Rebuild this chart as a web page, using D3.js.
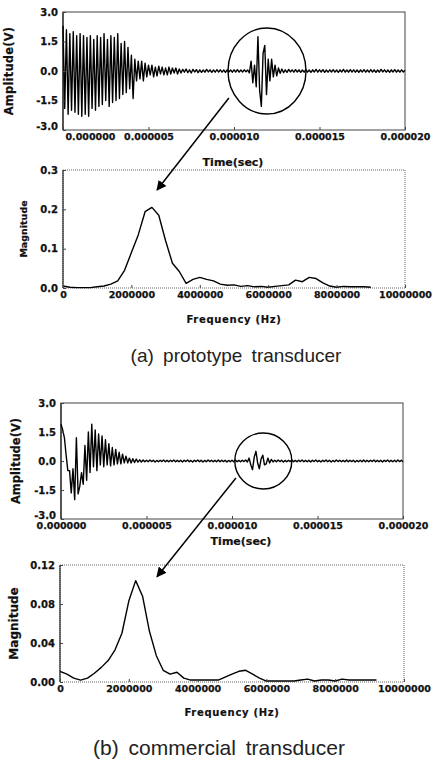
<!DOCTYPE html>
<html>
<head>
<meta charset="utf-8">
<script src="https://cdn.jsdelivr.net/npm/d3@7/dist/d3.min.js"></script>
<style>
  body { margin: 0; background: #fff; }
  svg { display: block; }
  .tick text { font-family: "DejaVu Sans", sans-serif; font-weight: bold; fill: #111; stroke: #111; stroke-width: 0.25px; }
  .title { font-family: "DejaVu Sans", sans-serif; font-weight: bold; fill: #111; stroke: #111; stroke-width: 0.2px; }
  .caption { font-family: "Liberation Sans", Arial, sans-serif; fill: #222; }
</style>
</head>
<body>
<svg width="433" height="765"></svg>
<script>
// sample spacing of the time traces (0.1 us)
var timeStep = 1e-7;

// (a) prototype transducer, amplitude (V) every 0.1 us, 0 .. 20 us
var timeA = [
  2.3, -1.9, 2.1, -2.2, 1.9, -2.0, 2.0, -2.1, 1.8, -2.2,
  1.9, -2.3, 1.8, -2.2, 1.7, -2.3, 1.8, -1.9, 1.6, -2.0,
  1.8, -1.8, 1.7, -1.7, 1.9, -1.5, 1.6, -1.8, 1.8, -1.6,
  1.7, -1.5, 1.9, -1.4, 1.4, -1.2, 1.5, -1.1, 1.2, -0.9,
  0.8, -1.4, 0.6, -0.5, 0.5, -0.4, 0.5, -0.5, 0.4, -0.3,
  0.3, -0.2, 0.3, -0.3, 0.2, -0.25, 0.25, -0.15, 0.2, -0.2,
  0.15, -0.2, 0.2, -0.15, 0.15, -0.1, 0.15, -0.15, 0.1, -0.1,
  0.08, -0.06, 0.1, -0.08, 0.06, -0.1, 0.08, -0.05, 0.07, -0.08,
  0.06, -0.07, 0.05, -0.06, 0.08, -0.05, 0.06, -0.07, 0.05, -0.06,
  0.07, -0.05, 0.06, -0.06, 0.05, -0.07, 0.06, -0.05, 0.05, -0.06,
  0.06, -0.05, 0.07, -0.06, 0.05, -0.05, 0.06, -0.04, 0.05, -0.1,
  0.5, -0.6, 0.3, -0.8, 1.75, -1.0, -1.8, 0.9, 1.3, -1.2,
  0.6, -0.5, 0.6, -0.3, 0.3, -0.25, 0.15, -0.12, 0.1, -0.08,
  0.06, -0.07, 0.08, -0.05, 0.06, -0.06, 0.07, -0.05, 0.06, -0.07,
  0.05, -0.06, 0.07, -0.06, 0.05, -0.07, 0.06, -0.05, 0.08, -0.06,
  0.06, -0.05, 0.07, -0.07, 0.05, -0.06, 0.06, -0.05, 0.07, -0.06,
  0.05, -0.07, 0.06, -0.05, 0.08, -0.06, 0.05, -0.06, 0.07, -0.05,
  0.06, -0.06, 0.05, -0.07, 0.06, -0.05, 0.07, -0.06, 0.05, -0.06,
  0.07, -0.05, 0.06, -0.07, 0.05, -0.06, 0.08, -0.05, 0.06, -0.06,
  0.05, -0.07, 0.06, -0.05, 0.07, -0.06, 0.05, -0.06, 0.06, -0.05,
  0.04
];

// (b) commercial transducer, amplitude (V) every 0.1 us, 0 .. 20 us
var timeB = [
  1.9, 1.6, 1.2, 0.3, -0.5, -0.5, -1.65, -0.4, -2.0, 1.2,
  -1.7, -1.3, -0.6, -1.2, 0.8, -1.0, 1.5, -0.6, 1.9, -0.3,
  1.6, -0.5, 1.4, -0.2, 1.3, -0.3, 1.1, -0.2, 0.9, -0.25,
  0.7, -0.2, 0.6, -0.15, 0.45, -0.15, 0.35, -0.1, 0.25, -0.1,
  0.15, -0.1, 0.12, -0.08, 0.1, -0.06, 0.06, -0.05, 0.05, -0.04,
  0.04, -0.04, 0.05, -0.03, 0.04, -0.05, 0.03, -0.04, 0.04, -0.03,
  0.05, -0.04, 0.03, -0.04, 0.04, -0.03, 0.05, -0.04, 0.03, -0.04,
  0.04, -0.05, 0.04, -0.03, 0.05, -0.04, 0.03, -0.05, 0.04, -0.03,
  0.05, -0.04, 0.04, -0.05, 0.03, -0.04, 0.05, -0.03, 0.04, -0.04,
  0.03, -0.04, 0.05, -0.04, 0.04, -0.03, 0.04, -0.05, 0.03, -0.04,
  0.04, -0.04, 0.05, -0.04, 0.03, -0.04, 0.04, -0.03,
  0.05, -0.05, 0.15, -0.2, -0.45, 0.2, 0.5, -0.1, -0.4, 0.1,
  0.3, -0.2, -0.15, 0.15, -0.1, 0.08, -0.05,
  0.04, -0.04, 0.05, -0.03, 0.04, -0.05, 0.03, -0.04, 0.04, -0.03,
  0.05, -0.04, 0.03, -0.04, 0.04, -0.03, 0.05, -0.04, 0.03, -0.04,
  0.04, -0.05, 0.04, -0.03, 0.05, -0.04, 0.03, -0.05, 0.04, -0.03,
  0.05, -0.04, 0.04, -0.05, 0.03, -0.04, 0.05, -0.03, 0.04, -0.04,
  0.03, -0.04, 0.05, -0.04, 0.04, -0.03, 0.04, -0.05, 0.03, -0.04,
  0.04, -0.04, 0.05, -0.04, 0.03, -0.04, 0.04, -0.03, 0.05, -0.04,
  0.03, -0.04, 0.04, -0.05, 0.04, -0.03, 0.05, -0.04, 0.03, -0.04,
  0.04, -0.04, 0.05, -0.03, 0.04, -0.04
];

// FFT frequencies (Hz) and magnitudes
var freqA = [0, 2e5, 4e5, 6e5, 8e5, 1e6, 1.2e6, 1.4e6, 1.6e6, 1.8e6,
  2e6, 2.2e6, 2.4e6, 2.6e6, 2.8e6, 3e6, 3.2e6, 3.4e6, 3.6e6, 3.8e6,
  4e6, 4.2e6, 4.4e6, 4.6e6, 4.8e6, 5e6, 5.2e6, 5.4e6, 5.6e6, 5.8e6,
  6e6, 6.2e6, 6.4e6, 6.6e6, 6.8e6, 7e6, 7.2e6, 7.4e6, 7.6e6, 7.8e6,
  8e6, 8.2e6, 8.4e6, 8.6e6, 8.8e6, 9e6];
var magA = [0.005, 0.002, 0.001, 0.001, 0.001, 0.003, 0.005, 0.010, 0.018, 0.045,
  0.090, 0.135, 0.194, 0.205, 0.185, 0.120, 0.063, 0.042, 0.012, 0.022,
  0.027, 0.022, 0.018, 0.010, 0.007, 0.008, 0.004, 0.006, 0.003, 0.004,
  0.002, 0.004, 0.006, 0.008, 0.020, 0.016, 0.027, 0.024, 0.013, 0.005,
  0.002, 0.004, 0.003, 0.003, 0.003, 0.002];

var freqB = [0, 2e5, 4e5, 6e5, 8e5, 1e6, 1.2e6, 1.4e6, 1.6e6, 1.8e6,
  2e6, 2.2e6, 2.4e6, 2.6e6, 2.8e6, 3e6, 3.2e6, 3.4e6, 3.6e6, 3.8e6,
  4e6, 4.2e6, 4.4e6, 4.6e6, 4.8e6, 5e6, 5.2e6, 5.4e6, 5.6e6, 5.8e6,
  6e6, 6.2e6, 6.4e6, 6.6e6, 6.8e6, 7e6, 7.2e6, 7.4e6, 7.6e6, 7.8e6,
  8e6, 8.2e6, 8.4e6, 8.6e6, 8.8e6, 9e6, 9.2e6];
var magB = [0.011, 0.008, 0.004, 0.002, 0.004, 0.009, 0.015, 0.022, 0.033, 0.050,
  0.083, 0.104, 0.088, 0.052, 0.027, 0.012, 0.008, 0.010, 0.004, 0.002,
  0.002, 0.002, 0.002, 0.002, 0.005, 0.008, 0.011, 0.012, 0.008, 0.004,
  0.001, 0.001, 0.001, 0.001, 0.001, 0.002, 0.003, 0.001, 0.002, 0.002,
  0.001, 0.003, 0.002, 0.002, 0.002, 0.002, 0.002];

// ticks
var timeTicks = [0, 5e-6, 10e-6, 15e-6, 20e-6];
var ampTicks = [-3, -1.5, 0, 1.5, 3];
var freqTicks = [0, 2e6, 4e6, 6e6, 8e6, 10e6];
var magTicksA = [0, 0.1, 0.2, 0.3];
var magTicksB = [0, 0.04, 0.08, 0.12];

// callouts: circled echo [t, V] and arrow [start t, V] -> [tip Hz, magnitude]
var echoA = [11.93e-6, 0], arrowA = [[9.7e-6, -1.37], [2.75e6, 0.249]];
var echoB = [11.83e-6, 0], arrowB = [[10.23e-6, -0.88], [2.82e6, 0.108]];

var captions = ["(a) prototype transducer", "(b) commercial transducer"];

var svg = d3.select("svg");
svg.append("rect").attr("width", 433).attr("height", 765).attr("fill", "#fff");

svg.append("defs").append("marker")
    .attr("id", "head")
    .attr("viewBox", "0 0 10 10")
    .attr("refX", 9).attr("refY", 5)
    .attr("markerWidth", 10).attr("markerHeight", 10)
    .attr("markerUnits", "userSpaceOnUse")
    .attr("orient", "auto")
  .append("path")
    .attr("d", "M0,0L10,5L0,10z")
    .attr("fill", "#000");

function panel(box) {
  var g = svg.append("g").attr("transform", "translate(" + box.left + "," + box.top + ")");
  g.w = box.right - box.left;
  g.h = box.bottom - box.top;
  g.box = box;
  return g;
}

function frame(g, dotted) {
  g.append("rect")
      .attr("width", g.w).attr("height", g.h)
      .attr("fill", "none")
      .attr("stroke", dotted ? "#666" : "#444")
      .attr("stroke-dasharray", dotted ? "1,1" : null)
      .attr("stroke-width", 1);
  g.append("line").attr("x1", 0).attr("x2", 0).attr("y1", 0).attr("y2", g.h)
      .attr("stroke", "#222").attr("stroke-width", 1.2);
}

function drawTime(box, values, opt) {
  var g = panel(box);
  var x = d3.scaleLinear().domain([0, 20e-6]).range([0, g.w]);
  var y = d3.scaleLinear().domain([-3, 3]).range([g.h, 0]);
  frame(g, false);

  var line = d3.line()
      .x(function(d, i) { return x(i * timeStep); })
      .y(function(d) { return y(d); });

  g.append("path")
      .datum(values)
      .attr("fill", "none")
      .attr("stroke", "#000")
      .attr("stroke-width", 1.4)
      .attr("stroke-linejoin", "round")
      .attr("d", line);

  var ya = g.append("g")
      .call(d3.axisLeft(y).tickValues(ampTicks).tickSize(-3).tickPadding(5)
        .tickFormat(function(d) { return d.toFixed(1); }));
  ya.select(".domain").remove();
  ya.selectAll("line").attr("stroke", "#444");
  ya.selectAll("text").style("font-size", "10px");
  ya.selectAll(".tick").filter(function(d) { return d === -3; }).select("text").attr("dy", "-0.05em");

  var xa = g.append("g")
      .attr("transform", "translate(0," + g.h + ")")
      .call(d3.axisBottom(x).tickValues(timeTicks).tickSize(-3).tickPadding(3)
        .tickFormat(d3.format(".6f")));
  xa.select(".domain").remove();
  xa.selectAll("line").attr("stroke", "#444");
  xa.selectAll("text").style("font-size", "9.5px");
  if (opt.firstStart) {
    xa.selectAll(".tick").filter(function(d) { return d === 0; }).select("text")
        .attr("text-anchor", "start").attr("x", 2);
  }

  g.append("text").attr("class", "title")
      .attr("transform", "translate(" + opt.yTitleX + "," + (g.h / 2) + ") rotate(-90)")
      .attr("text-anchor", "middle")
      .style("font-size", "11.5px")
      .style("letter-spacing", opt.yTitleSpace)
      .text(opt.yTitle);

  g.append("text").attr("class", "title")
      .attr("x", opt.xTitleX).attr("y", g.h + opt.xTitleY)
      .attr("text-anchor", "middle")
      .style("font-size", "11px")
      .text("Time(sec)");

  // circled echo
  g.append("ellipse")
      .attr("cx", x(opt.echo[0])).attr("cy", y(opt.echo[1]))
      .attr("rx", opt.rx).attr("ry", opt.ry)
      .attr("fill", "none").attr("stroke", "#000").attr("stroke-width", 1.4);

  g.x = x; g.y = y;
  return g;
}

function drawFft(box, freqs, mags, opt) {
  var g = panel(box);
  var x = d3.scaleLinear().domain([0, 10e6]).range([0, g.w]);
  var y = d3.scaleLinear().domain([0, opt.ymax]).range([g.h, 0]);
  frame(g, true);

  var line = d3.line()
      .x(function(d, i) { return x(freqs[i]); })
      .y(function(d) { return y(d); });

  g.append("path")
      .datum(mags)
      .attr("fill", "none")
      .attr("stroke", "#000")
      .attr("stroke-width", 1.4)
      .attr("stroke-linejoin", "round")
      .attr("d", line);

  var ya = g.append("g")
      .call(d3.axisLeft(y).tickValues(opt.ticks).tickSize(-3).tickPadding(5)
        .tickFormat(function(d) { return d.toFixed(opt.digits); }));
  ya.select(".domain").remove();
  ya.selectAll("line").attr("stroke", "#444");
  ya.selectAll("text").style("font-size", "10px");

  var xa = g.append("g")
      .attr("transform", "translate(0," + g.h + ")")
      .call(d3.axisBottom(x).tickValues(freqTicks).tickSize(-3).tickPadding(3)
        .tickFormat(d3.format("d")));
  xa.select(".domain").remove();
  xa.selectAll("line").attr("stroke", "#444");
  xa.selectAll("text").style("font-size", "9.5px");

  g.append("text").attr("class", "title")
      .attr("transform", "translate(" + opt.yTitleX + "," + (g.h / 2) + ") rotate(-90)")
      .attr("text-anchor", "middle")
      .style("font-size", opt.yTitleSize)
      .text("Magnitude");

  g.append("text").attr("class", "title")
      .attr("x", g.w / 2 + opt.xTitleDx).attr("y", g.h + opt.xTitleY)
      .attr("text-anchor", "middle")
      .style("font-size", "10px")
      .style("letter-spacing", "0.7px")
      .text("Frequency (Hz)");

  g.x = x; g.y = y;
  return g;
}

function arrow(tg, fg, a) {
  var x1 = tg.box.left + tg.x(a[0][0]), y1 = tg.box.top + tg.y(a[0][1]);
  var x2 = fg.box.left + fg.x(a[1][0]), y2 = fg.box.top + fg.y(a[1][1]);
  svg.append("line")
      .attr("x1", x1).attr("y1", y1).attr("x2", x2).attr("y2", y2)
      .attr("stroke", "#000").attr("stroke-width", 1.5)
      .attr("marker-end", "url(#head)");
}

var t1 = drawTime({left: 63, right: 405, top: 12, bottom: 130}, timeA,
  {firstStart: true, yTitle: "Amplitude(V)", yTitleX: -50, yTitleSpace: "0.2px",
   xTitleX: 170, xTitleY: 36, echo: echoA, rx: 39, ry: 43});
var f1 = drawFft({left: 63, right: 405, top: 170, bottom: 288}, freqA, magA,
  {ymax: 0.3, ticks: magTicksA, digits: 1, yTitleX: -36, yTitleSize: "9.5px",
   xTitleDx: 0, xTitleY: 35});
var t2 = drawTime({left: 61, right: 403, top: 403, bottom: 519}, timeB,
  {firstStart: false, yTitle: "Amplitude(V)", yTitleX: -41, yTitleSpace: "0px",
   xTitleX: 180, xTitleY: 26, echo: echoB, rx: 28.5, ry: 28});
var f2 = drawFft({left: 60, right: 404, top: 565, bottom: 682}, freqB, magB,
  {ymax: 0.12, ticks: magTicksB, digits: 2, yTitleX: -42, yTitleSize: "12px",
   xTitleDx: 0, xTitleY: 34});

arrow(t1, f1, arrowA);
arrow(t2, f2, arrowB);

svg.append("text").attr("class", "caption")
    .attr("x", 236).attr("y", 362)
    .attr("text-anchor", "middle")
    .style("font-size", "19px").style("word-spacing", "4px")
    .text(captions[0]);
svg.append("text").attr("class", "caption")
    .attr("x", 219).attr("y", 755)
    .attr("text-anchor", "middle")
    .style("font-size", "21px").style("word-spacing", "4px")
    .text(captions[1]);
</script>
</body>
</html>
